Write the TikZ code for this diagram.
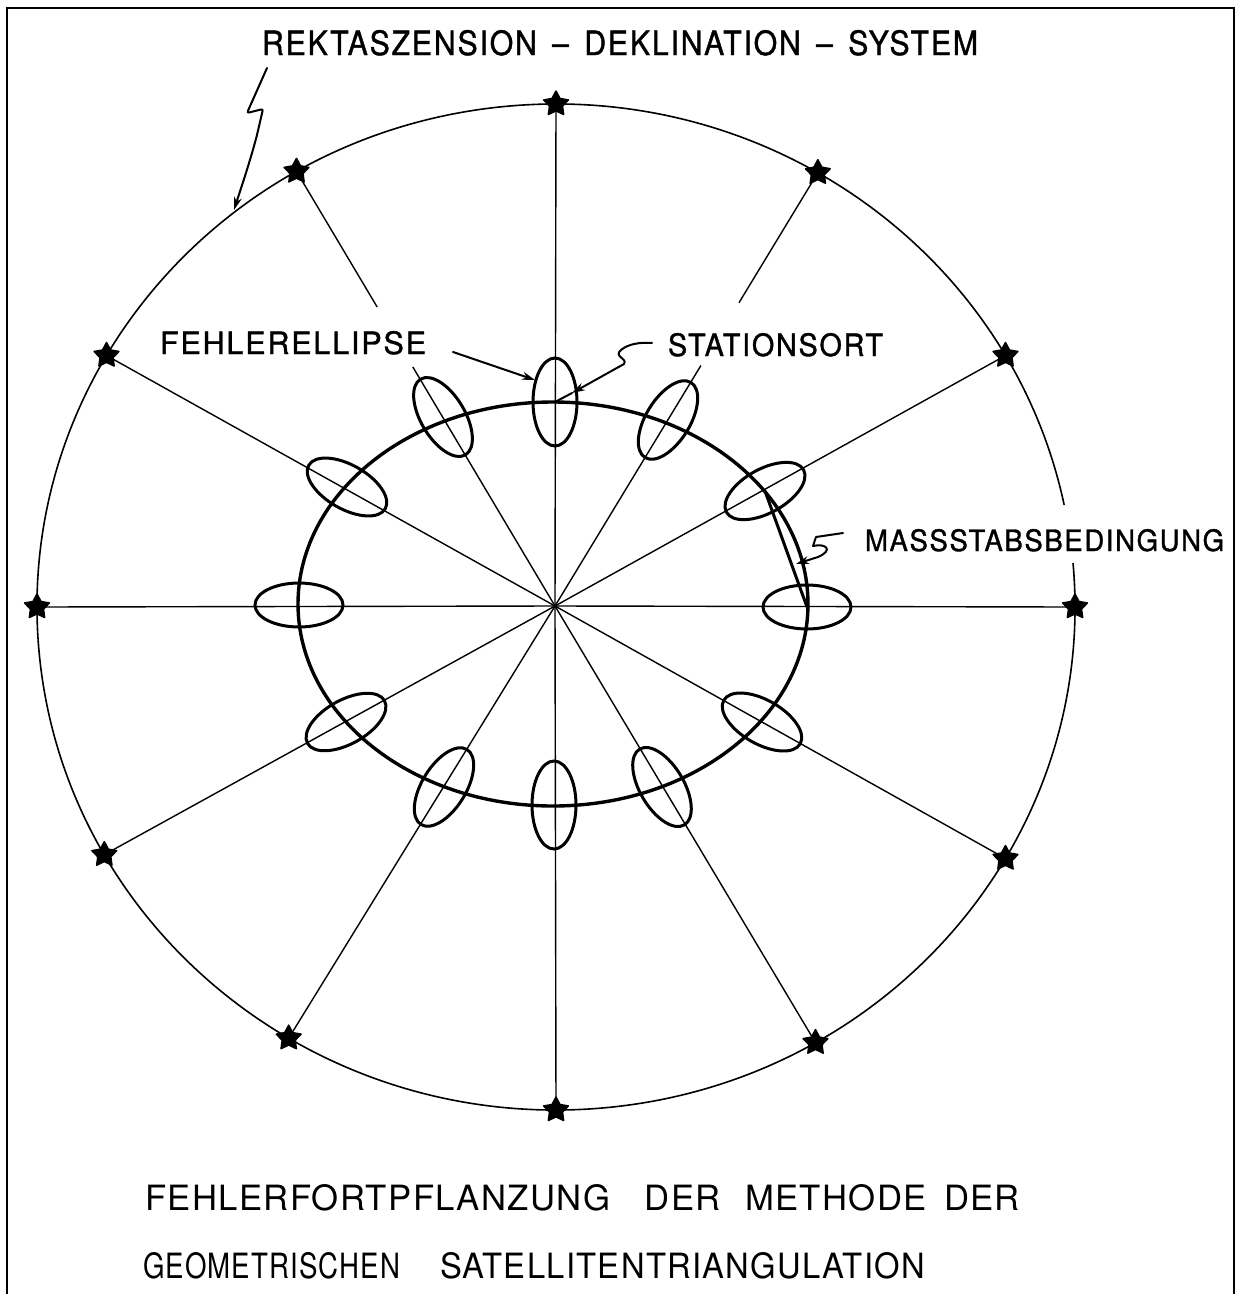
\documentclass[tikz,border=0pt]{standalone}
\usepackage{fontspec}
\usepackage{graphicx}
\usetikzlibrary{shapes.geometric,calc,arrows.meta}
\newfontfamily\lett[LetterSpace=6,FakeBold=1.2]{TeX Gyre Heros}
\newfontfamily\lettb[LetterSpace=4]{TeX Gyre Heros}
\newcommand\fitt[3]{\resizebox{#1pt}{#2pt}{\lett\fontsize{20}{24}\selectfont #3}}
\newcommand\fittb[3]{\resizebox{#1pt}{#2pt}{\lettb\fontsize{20}{24}\selectfont #3}}
\begin{document}
\begin{tikzpicture}[x=1pt,y=-1pt,
  spoke/.style={line width=1.4pt},
  rim/.style={line width=1.6pt},
  orbit/.style={line width=3.4pt},
  errell/.style={draw, ellipse, line width=3pt, minimum width=88pt, minimum height=44pt, inner sep=0pt},
  sat/.style={star, star points=5, star point ratio=1.9, fill=black, draw=black, line width=1.5pt, line join=round, minimum size=26pt, inner sep=0pt},
  lbl/.style={anchor=north west, inner sep=0pt, outer sep=0pt},
  ann/.style={line width=2pt, line cap=round, line join=round},
  tip/.style={-{Stealth[length=13pt,width=8pt]}}
]
\useasboundingbox (0,0) rectangle (1236,1294);
\fill[white] (0,0) rectangle (1236,1294);
% frame
\draw[line width=2pt] (7,1294) -- (7,8) -- (1234,8) -- (1234,1294);
% centres
\coordinate (O) at (556,607);
\coordinate (C) at (555,606);
% outer circle with a gap at the label
\draw[rim] ($(O)+(-5:519 and 503)$) arc[start angle=-5, end angle=348.3, x radius=519, y radius=503];
% satellites
\foreach \n/\t in {1/-90,2/-59.7,3/-30,4/0,5/30,6/60,7/90,8/121,9/150.5,10/180,11/210,12/240}
  \node[sat] (s\n) at ($(O)+(\t:519 and 503)$) {};
% spokes
\foreach \n in {1,3,4,5,6,7,8,9,10,11}
  \draw[spoke] (C) -- (s\n.center);
\coordinate (g2a) at ($(C)!0.555!(s2.center)$);
\coordinate (g2b) at ($(C)!0.70!(s2.center)$);
\coordinate (g12a) at ($(C)!0.55!(s12.center)$);
\coordinate (g12b) at ($(C)!0.688!(s12.center)$);
\draw[spoke] (C) -- (g2a);
\draw[spoke] (g2b) -- (s2.center);
\draw[spoke] (C) -- (g12a);
\draw[spoke] (g12b) -- (s12.center);
% station orbit
\draw[orbit] (553,604) ellipse [x radius=255, y radius=202];
% error ellipses
\foreach \n/\x/\y/\a in {1/555/402/90, 2/668/420/58.5, 3/765/491/28.8, 4/807/607/0,
  5/762/722/-29.7, 6/662/787/-59.5, 7/554/805/90, 8/444/787/-121.5,
  9/346/722/-151, 10/299/605/180, 11/347/487/150.4, 12/443/417/120.7}
  \node[errell, rotate=\a] (e\n) at (\x,\y) {};
% scale condition
\draw[line width=3pt] (e3.center) -- (e4.center);
% labels
\node[lbl] (title) at (262,30) {\fitt{716}{25}{REKTASZENSION \,–\, DEKLINATION \,–\, SYSTEM}};
\node[lbl] (fehl) at (160,331) {\fitt{266}{23}{FEHLERELLIPSE}};
\node[lbl] (stat) at (668,333) {\fitt{215}{23}{STATIONSORT}};
\node[lbl] (mass) at (865,529) {\fitt{359}{22}{MASSSTABSBEDINGUNG}};
\node[lbl] (b1) at (145,1184) {\fittb{875}{26}{FEHLERFORTPFLANZUNG\hspace{1.0em}DER\hspace{0.7em}METHODE\hspace{0.5em}DER}};
\node[lbl] (b2a) at (143,1252) {\fittb{257}{26}{GEOMETRISCHEN}};
\node[lbl] (b2b) at (440,1252) {\fittb{485}{26}{SATELLITENTRIANGULATION}};
% annotation arrows
\coordinate (l0) at (267,68);
\coordinate (lt) at (234,210);
\draw[ann, tip, rounded corners=2pt] (l0) -- (247,113) -- (263,109) -- (257,135) .. controls (249,165) and (241,188) .. (lt);
\coordinate (f0) at (453,352);
\coordinate (f1) at (535,380);
\draw[ann, tip] (f0) -- (f1);
\coordinate (p0) at (652,343);
\coordinate (p1) at (572,393);
\draw[ann] (p0) .. controls (640,342) and (628,344) .. (621,350) .. controls (613,357) and (628,358) .. (624,364);
\draw[ann, tip] (624,364) -- (p1);
\draw[ann] (p1) -- (e1.center);
\coordinate (m0) at (843,533);
\coordinate (m1) at (796,564);
\draw[ann, tip] (m0) -- (816,537) -- (813,546) .. controls (826,543) and (834,550) .. (818,557) -- (m1);
\end{tikzpicture}
\end{document}
